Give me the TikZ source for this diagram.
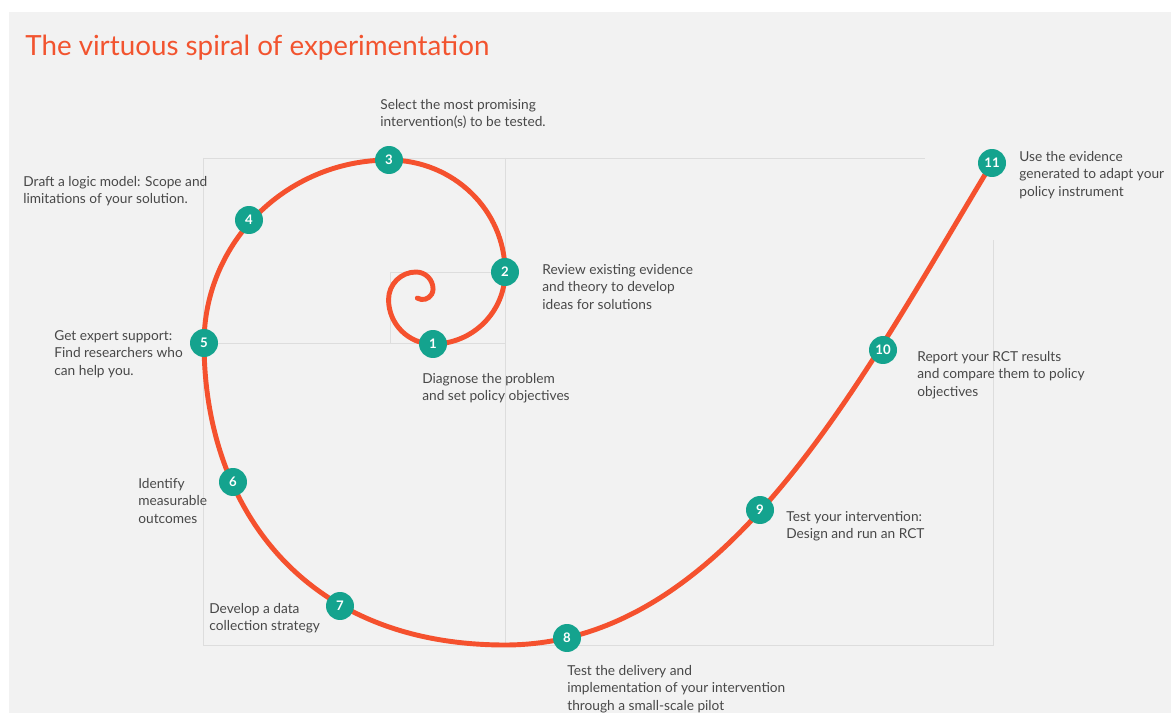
\documentclass[tikz,border=0pt]{standalone}
\usepackage{fontspec}
\setmainfont{Lato}
\definecolor{spiralred}{HTML}{F5512E}
\definecolor{titlered}{HTML}{F2542F}
\definecolor{teal2}{HTML}{14A38E}
\definecolor{textgray}{HTML}{484848}
\definecolor{panelgray}{HTML}{F2F2F2}
\definecolor{gridgray}{HTML}{DDDDDD}
\begin{document}
\begin{tikzpicture}[x=0.02cm,y=-0.02cm,
  gridln/.style={draw=gridgray,line width=0.5pt},
  spiralln/.style={draw=spiralred,line width=2.8pt,line cap=round},
  stepnode/.style={circle,fill=teal2,minimum size=0.56cm,inner sep=0pt,text=white,font=\fontsize{7.5}{8}\selectfont\bfseries},
  lbl/.style={anchor=north west,inner sep=0pt,align=left,text=textgray,font=\fontsize{7.8}{9.9}\selectfont},
]
\fill[white] (0,0) rectangle (1171,713);
\fill[panelgray] (9,12) rectangle (1171,713);
\useasboundingbox (0,0) rectangle (1171,713);

% faint construction lines
\draw[gridln] (203,158) -- (925,158);
\draw[gridln] (203,158) -- (203,645) -- (993,645) -- (993,240);
\draw[gridln] (505,158) -- (505,645);
\draw[gridln] (203,343) -- (505,343);
\draw[gridln] (390,343) -- (390,272) -- (505,272);

% title
\node[anchor=base west,inner sep=0pt,text=titlered,font=\fontsize{15.8}{18}\selectfont] (title) at (25,56) {The virtuous spiral of experimentation};

% spiral
\coordinate (tail) at (417.3,298.1);
\coordinate (bottom) at (505,645);
\coordinate (tip) at (992,163);
\draw[spiralln] (tail) arc[start angle=120,end angle=0,radius=10.5]
  arc[start angle=0,end angle=-90,radius=17]
  arc[start angle=-90,end angle=-180,radius=27.5]
  arc[start angle=180,end angle=90,radius=44.5]
  arc[start angle=90,end angle=0,radius=72]
  arc[start angle=0,end angle=-90,x radius=116,y radius=112]
  arc[start angle=-90,end angle=-180,x radius=185,y radius=183]
  .. controls (204,503) and (300,645) .. (bottom)
  .. controls (725,645) and (857.6,385.6) .. (tip);

% step markers
\node[stepnode] (n1) at (433,344) {1};
\node[stepnode] (n2) at (505,272) {2};
\node[stepnode] (n3) at (389,160) {3};
\node[stepnode] (n4) at (249,220) {4};
\node[stepnode] (n5) at (204,343) {5};
\node[stepnode] (n6) at (233,482) {6};
\node[stepnode] (n7) at (340,606) {7};
\node[stepnode] (n8) at (567,638) {8};
\node[stepnode] (n9) at (760,510) {9};
\node[stepnode] (n10) at (883,350) {10};
\node[stepnode] (n11) at (992,163) {11};

% labels
\node[lbl] (t3) at (380,99) {Select the most promising\\intervention(s) to be tested.};
\node[lbl] (t4) at (23,176) {Draft a logic model: Scope and\\limitations of your solution.};
\node[lbl] (t2) at (542,264) {Review existing evidence\\and theory to develop\\ideas for solutions};
\node[lbl] (t5) at (54,330) {Get expert support:\\Find researchers who\\can help you.};
\node[lbl] (t1) at (422,373) {Diagnose the problem\\and set policy objectives};
\node[lbl] (t6) at (138,478) {Identify\\measurable\\outcomes};
\node[lbl] (t7) at (209,603) {Develop a data\\collection strategy};
\node[lbl] (t8) at (567,665) {Test the delivery and\\implementation of your intervention\\through a small-scale pilot};
\node[lbl] (t9) at (786,511) {Test your intervention:\\Design and run an RCT};
\node[lbl] (t10) at (917,351) {Report your RCT results\\and compare them to policy\\objectives};
\node[lbl] (t11) at (1019,151) {Use the evidence\\generated to adapt your\\policy instrument};
\end{tikzpicture}
\end{document}
